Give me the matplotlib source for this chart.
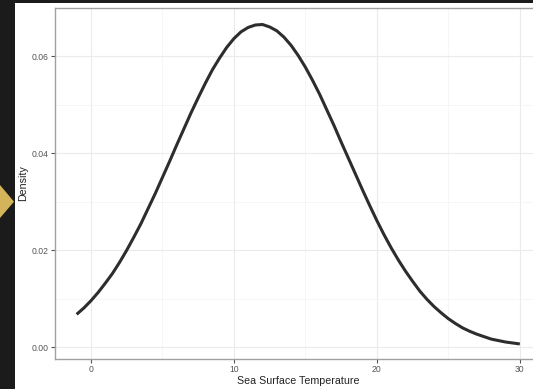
import numpy as np
import matplotlib
matplotlib.use("Agg")
import matplotlib.pyplot as plt
from matplotlib.patches import Rectangle, Polygon

plt.rcParams['font.family'] = ['Liberation Sans', 'DejaVu Sans']

# density curve, every half degree
temp = [-1, -0.5, 0, 0.5, 1, 1.5, 2, 2.5, 3, 3.5, 4, 4.5, 5, 5.5, 6, 6.5,
        7, 7.5, 8, 8.5, 9, 9.5, 10, 10.5, 11, 11.5, 12, 12.5, 13, 13.5,
        14, 14.5, 15, 15.5, 16, 16.5, 17, 17.5, 18, 18.5, 19, 19.5, 20,
        20.5, 21, 21.5, 22, 22.5, 23, 23.5, 24, 24.5, 25, 25.5, 26, 26.5,
        27, 27.5, 28, 28.5, 29, 29.5, 30]
density = [0.0068, 0.0081, 0.0096, 0.0113, 0.0132, 0.0152, 0.0175, 0.0200,
           0.0227, 0.0255, 0.0286, 0.0317, 0.0350, 0.0383, 0.0417, 0.0450,
           0.0483, 0.0514, 0.0544, 0.0572, 0.0596, 0.0618, 0.0636, 0.0650,
           0.0659, 0.0664, 0.0665, 0.0660, 0.0652, 0.0639, 0.0622, 0.0601,
           0.0577, 0.0550, 0.0521, 0.0489, 0.0457, 0.0423, 0.0390, 0.0357,
           0.0324, 0.0292, 0.0261, 0.0232, 0.0205, 0.0180, 0.0157, 0.0136,
           0.0116, 0.0099, 0.0084, 0.0071, 0.0059, 0.0049, 0.0040, 0.0033,
           0.0027, 0.0022, 0.0017, 0.0014, 0.0011, 0.0009, 0.0007]

x_ticks = [0, 10, 20, 30]
x_minor = [5, 15, 25]
y_ticks = [0.00, 0.02, 0.04, 0.06]
y_minor = [0.01, 0.03, 0.05]

W, H = 533, 389
fig = plt.figure(figsize=(W / 100, H / 100), dpi=100)
fig.patch.set_facecolor('white')

# dark screenshot frame + yellow arrow on the left
dark = '#1b1b1b'
fig.patches.append(Rectangle((0, 0), 15 / W, 1, transform=fig.transFigure,
                             facecolor=dark, edgecolor='none', zorder=0))
fig.patches.append(Rectangle((0, 1 - 3 / H), 1, 3 / H, transform=fig.transFigure,
                             facecolor=dark, edgecolor='none', zorder=0))
fig.patches.append(Polygon([(0, 1 - 185 / H), (14 / W, 1 - 201.7 / H), (0, 1 - 218 / H)],
                           closed=True, transform=fig.transFigure,
                           facecolor='#d4b45a', edgecolor='none', zorder=1))

left, right, bottom, top = 54.5, 542, 359, 8
ax = fig.add_axes([left / W, 1 - bottom / H, (right - left) / W, (bottom - top) / H])

ax.plot(temp, density, color='#2d2d2d', lw=2.2, solid_capstyle='butt',
        solid_joinstyle='round', zorder=3)

ax.set_xlim(-2.55, 31.55)
ax.set_ylim(-0.0024, 0.0699)
ax.set_xticks(x_ticks)
ax.set_xticks(x_minor, minor=True)
ax.set_yticks(y_ticks)
ax.set_yticks(y_minor, minor=True)
ax.set_yticklabels([f"{v:.2f}" for v in y_ticks])

ax.grid(which='major', color='#ebebeb', lw=0.8)
ax.grid(which='minor', color='#f3f3f3', lw=0.5)
ax.set_axisbelow(True)

for s in ax.spines.values():
    s.set_color('#a0a0a0')
    s.set_linewidth(1.0)

ax.tick_params(which='major', length=3, width=0.8, color='#555555',
               labelsize=6.2, labelcolor='#555555', pad=1.5)
ax.tick_params(which='minor', length=0)

ax.set_xlabel('Sea Surface Temperature', fontsize=7.7, color='#222222', labelpad=1.5)
ax.set_ylabel('Density', fontsize=7.7, color='#222222', labelpad=2.5)

fig.savefig('out.png', dpi=100)
